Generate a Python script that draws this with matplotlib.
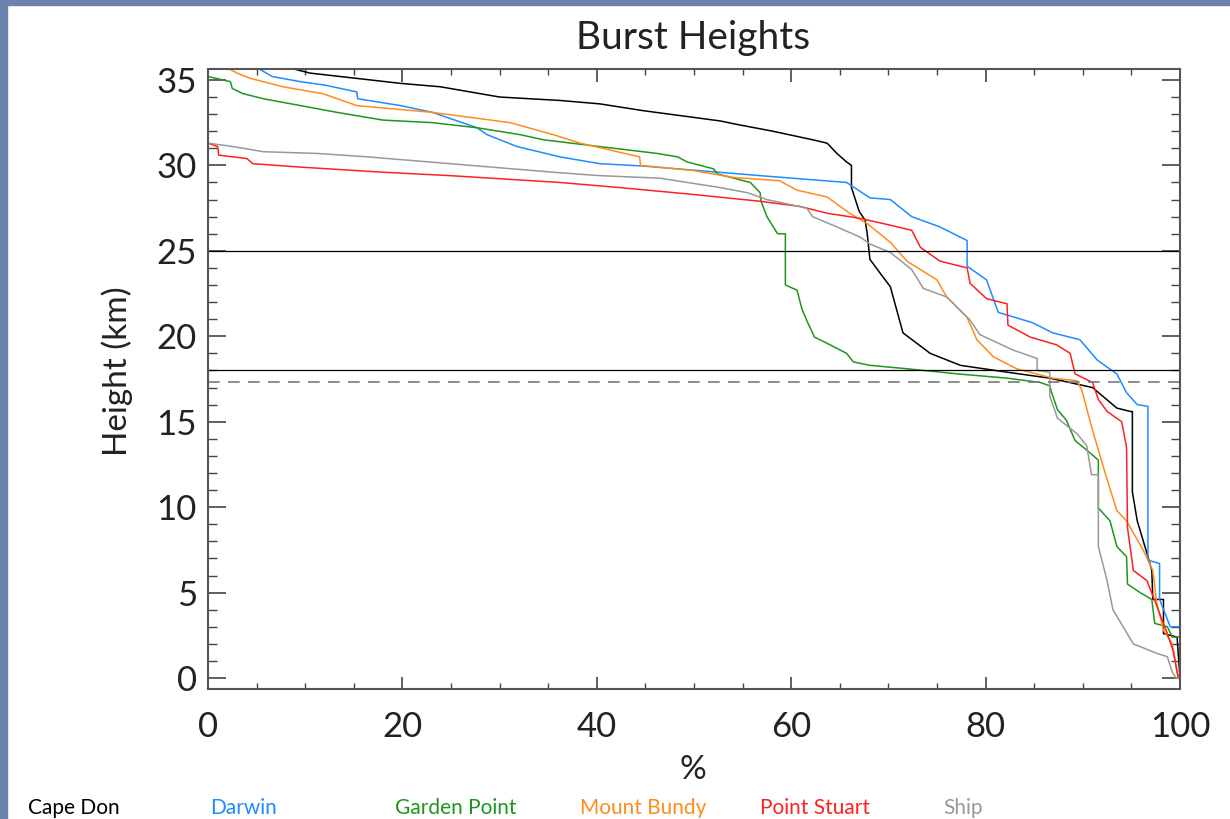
import matplotlib
matplotlib.use("Agg")
import matplotlib.pyplot as plt
from matplotlib.patches import Rectangle
from matplotlib.ticker import MultipleLocator

# percent of flashes (x) vs burst height in km (y)
cape_don_pct = [8.4, 10.5, 19.8, 23.9, 30.0, 36.2, 40.3, 44.8, 52.7, 54.4, 58.1, 62.2, 63.7, 64.7,
                65.7, 66.2, 66.2, 67.0, 67.6, 67.8, 68.1, 69.4, 70.2, 71.5, 74.3, 77.4, 82.2,
                86.6, 91.0, 93.5, 94.9, 95.1, 95.1, 95.6, 96.6, 97.1, 97.2, 98.3, 98.3, 99.7, 100.0]
cape_don_h = [35.7, 35.4, 34.8, 34.6, 34.0, 33.8, 33.6, 33.2, 32.6, 32.4, 32.0, 31.5, 31.3, 30.7,
              30.2, 30.0, 28.7, 27.3, 26.8, 26.1, 24.5, 23.5, 22.9, 20.2, 19.0, 18.3, 17.9,
              17.55, 17.0, 15.8, 15.6, 15.6, 10.9, 9.2, 7.3, 6.3, 4.6, 4.6, 2.6, 2.4, 0.0]

darwin_pct = [5.1, 6.6, 9.5, 12.0, 15.3, 15.4, 19.8, 23.1, 27.7, 28.7, 31.8, 36.2, 40.3, 44.8,
              56.8, 65.7, 68.1, 70.2, 72.4, 75.3, 78.1, 78.1, 80.1, 81.3, 84.8, 86.9, 89.7,
              91.5, 93.5, 94.5, 95.6, 96.7, 96.7, 97.9, 97.9, 99.0, 100.0, 100.0]
darwin_h = [35.7, 35.2, 34.9, 34.7, 34.3, 33.9, 33.5, 33.1, 32.2, 31.8, 31.1, 30.5, 30.1, 29.96,
            29.4, 29.0, 28.1, 28.0, 27.0, 26.4, 25.6, 24.1, 23.3, 21.4, 20.8, 20.2, 19.8,
            18.6, 17.8, 16.7, 16.0, 15.9, 6.9, 6.7, 4.6, 3.0, 3.0, 0.0]

garden_pct = [0.0, 2.3, 2.5, 3.6, 5.7, 9.5, 13.3, 18.0, 23.1, 27.7, 32.1, 34.5, 40.3, 46.2, 48.3,
              49.3, 52.0, 52.4, 55.8, 56.8, 56.9, 57.5, 58.6, 59.4, 59.4, 60.6, 61.1, 61.7,
              62.4, 64.0, 65.7, 66.4, 68.1, 71.9, 77.1, 82.2, 85.6, 86.6, 86.8, 87.4, 88.3,
              89.2, 90.7, 91.6, 91.6, 92.8, 93.5, 94.5, 94.6, 95.9, 97.1, 97.4, 98.7, 99.2, 100.0, 100.0]
garden_h = [35.2, 34.9, 34.5, 34.2, 33.9, 33.5, 33.1, 32.65, 32.5, 32.2, 31.8, 31.5, 31.1, 30.7, 30.5,
            30.2, 29.8, 29.5, 29.0, 28.4, 27.9, 27.0, 26.0, 26.0, 23.0, 22.7, 21.6, 20.8,
            19.95, 19.5, 19.0, 18.5, 18.3, 18.1, 17.8, 17.55, 17.3, 17.1, 16.7, 15.7, 15.1,
            13.9, 13.2, 12.75, 9.95, 9.2, 7.7, 7.1, 5.5, 5.0, 4.6, 3.2, 3.0, 2.4, 2.4, 0.0]

bundy_pct = [2.0, 3.0, 4.3, 5.7, 7.7, 11.8, 15.3, 23.1, 31.1, 35.5, 38.3, 44.4, 44.5, 49.9, 54.0,
             58.8, 60.6, 63.7, 66.0, 67.8, 70.2, 71.9, 75.0, 76.0, 78.1, 79.1, 80.8, 83.2, 86.9,
             89.4, 89.9, 91.0, 92.3, 93.5, 94.5, 96.2, 97.2, 97.6, 98.3, 99.2, 99.7, 100.0]
bundy_h = [35.7, 35.4, 35.1, 34.9, 34.6, 34.2, 33.5, 33.1, 32.5, 31.8, 31.3, 30.5, 30.0, 29.7, 29.3,
           29.1, 28.55, 28.15, 27.2, 26.6, 25.5, 24.4, 23.3, 22.3, 21.1, 19.8, 18.8, 18.1, 17.55,
           17.4, 16.85, 14.5, 12.0, 9.8, 9.2, 7.5, 6.3, 4.4, 2.8, 2.0, 0.35, 0.0]

stuart_pct = [0.0, 0.0, 1.0, 1.1, 4.0, 4.6, 9.5, 18.0, 24.9, 36.2, 42.4, 49.9, 56.8, 60.9, 63.7,
              67.1, 70.2, 72.4, 73.3, 75.3, 78.1, 78.4, 80.1, 82.2, 82.3, 84.6, 87.3, 88.7,
              89.2, 91.0, 91.6, 92.5, 94.0, 94.5, 94.6, 95.2, 96.6, 97.9, 98.7, 99.3, 99.8, 100.0]
stuart_h = [35.7, 31.3, 31.1, 30.6, 30.4, 30.1, 29.9, 29.6, 29.4, 29.0, 28.7, 28.3, 27.9, 27.6, 27.2,
            26.9, 26.5, 26.2, 25.2, 24.4, 24.0, 23.1, 22.2, 21.9, 20.65, 19.95, 19.5, 19.0,
            17.8, 17.3, 16.3, 15.6, 15.0, 13.5, 8.8, 6.3, 5.7, 3.8, 2.6, 1.6, 0.05, 0.0]

ship_pct = [0.0, 2.6, 5.7, 11.2, 16.4, 24.9, 35.5, 40.3, 46.5, 52.7, 55.5, 57.5, 61.6, 62.2, 64.7,
            67.1, 68.1, 70.2, 72.4, 73.6, 76.0, 78.4, 79.4, 82.8, 85.3, 85.3, 86.6, 86.6,
            87.4, 89.4, 90.4, 90.9, 91.6, 91.6, 92.5, 93.1, 95.2, 97.6, 98.7, 99.2, 99.6, 100.0]
ship_h = [31.3, 31.1, 30.8, 30.7, 30.5, 30.1, 29.6, 29.4, 29.25, 28.7, 28.4, 28.0, 27.5, 27.0, 26.4,
          25.8, 25.4, 24.9, 23.9, 22.8, 22.3, 20.95, 20.1, 19.2, 18.7, 18.0, 17.9, 16.5,
          15.2, 14.3, 13.6, 11.9, 11.9, 7.7, 5.7, 4.0, 2.0, 1.45, 1.25, 0.35, 0.0, 0.0]

names = ["Cape Don", "Darwin", "Garden Point", "Mount Bundy", "Point Stuart", "Ship"]
colors = ["black", "#1e8cff", "#1e961e", "#ff8c1a", "#ff2020", "#999999"]
series = [(cape_don_pct, cape_don_h), (darwin_pct, darwin_h), (garden_pct, garden_h),
          (bundy_pct, bundy_h), (stuart_pct, stuart_h), (ship_pct, ship_h)]
ref_lines = [25, 18]
tropopause = 17.3

plt.rcParams["font.family"] = ["Lato", "DejaVu Sans"]

W, H = 1230, 819
fig = plt.figure(figsize=(W / 100, H / 100), dpi=100)
fig.patch.set_facecolor("white")
# slide background peeking in at the left and top edges
fig.patches.append(Rectangle((0, 0), 7 / W, 1, transform=fig.transFigure, color="#6d83af", zorder=0))
fig.patches.append(Rectangle((0, 1 - 5 / H), 1, 5 / H, transform=fig.transFigure, color="#6d83af", zorder=0))

ax = fig.add_axes([208 / W, 130 / H, 972 / W, 620 / H])
for (xs, ys), c in zip(series, colors):
    ax.plot(xs, ys, color=c, lw=1.1)
for yv in ref_lines:
    ax.axhline(yv, color="black", lw=0.9)
ax.axhline(tropopause, color="#777777", lw=1.2, dashes=(7, 5))

ax.set_xlim(0, 100)
ax.set_ylim(-0.64, 35.64)
ax.xaxis.set_major_locator(MultipleLocator(20))
ax.xaxis.set_minor_locator(MultipleLocator(5))
ax.yaxis.set_major_locator(MultipleLocator(5))
ax.yaxis.set_minor_locator(MultipleLocator(1))
ax.tick_params(axis="x", which="major", direction="in", length=9, width=1.2, top=True,
               labelsize=25, pad=16, color="#444444", labelcolor="#222222")
ax.tick_params(axis="x", which="minor", direction="in", length=4.5, width=1, top=True, color="#444444")
ax.tick_params(axis="y", which="major", direction="in", length=13, width=1.2, right=True,
               labelsize=25, pad=8, color="#444444", labelcolor="#222222")
ax.tick_params(axis="y", which="minor", direction="in", length=6.5, width=1, right=True, color="#444444")
for s in ax.spines.values():
    s.set_color("#555555")
    s.set_linewidth(1.5)

fig.text(693 / W, 1 - 38 / H, "Burst Heights", ha="center", va="center", fontsize=28, color="#222222")
fig.text(693 / W, 1 - 770 / H, "%", ha="center", va="center", fontsize=24, color="#222222")
fig.text(117 / W, 1 - 371 / H, "Height (km)", ha="center", va="center", rotation=90,
         fontsize=24, color="#222222")

legend_x = [28, 210, 395, 580, 760, 943]
for nm, c, lx in zip(names, colors, legend_x):
    fig.text(lx / W, 1 - 808 / H, nm, color=c, ha="left", va="center", fontsize=15)

fig.savefig("out.png", dpi=100)
